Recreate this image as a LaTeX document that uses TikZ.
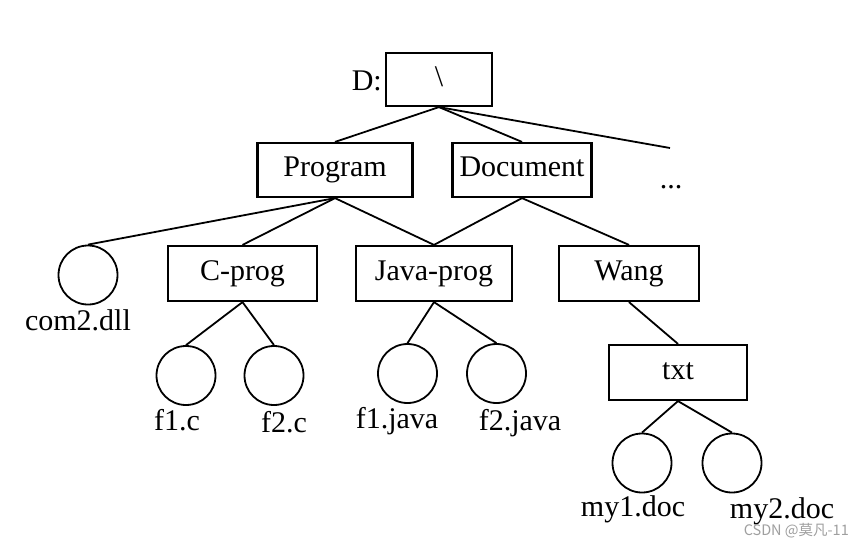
\documentclass[tikz,border=0pt]{standalone}
\usepackage{fontspec}
\setmainfont{Liberation Serif}
\newfontfamily\cjkwm{Noto Sans CJK SC}
\begin{document}
\begin{tikzpicture}[x=1pt,y=-1pt,
  dirbox/.style={draw, line width=2.2pt, inner sep=0pt, text height=20pt, text depth=7pt, font=\fontsize{30}{36}\selectfont},
  filecirc/.style={draw, circle, line width=1.8pt, minimum size=59pt, inner sep=0pt},
  flabel/.style={anchor=base, inner sep=0pt, font=\fontsize{30}{36}\selectfont},
  link/.style={line width=1.8pt}]
\useasboundingbox (0,0) rectangle (865,547);
\fill[white] (0,0) rectangle (865,547);
% directories
\node[dirbox, minimum width=106pt, minimum height=53pt] (root) at (439,79.5) {\textbackslash};
\node[flabel, anchor=base east] (dlabel) at (382,90) {D:};
\node[dirbox, minimum width=155pt, minimum height=54pt] (program) at (335,170) {Program};
\node[dirbox, minimum width=139pt, minimum height=54pt] (document) at (522,170) {Document};
\node[flabel] (dots) at (671,188) {...};
\coordinate (dotsend) at (670,148);
\node[dirbox, minimum width=149pt, minimum height=55pt] (cprog) at (242.5,273.5) {C-prog};
\node[dirbox, minimum width=156pt, minimum height=55pt] (javaprog) at (434,273.5) {Java-prog};
\node[dirbox, minimum width=140pt, minimum height=55pt] (wang) at (629,273.5) {Wang};
\node[dirbox, minimum width=138pt, minimum height=55pt] (txt) at (678,372.5) {txt};
% files
\node[filecirc] (com) at (88,275) {};
\node[flabel] (comlabel) at (78,330) {com2.dll};
\node[filecirc] (f1c) at (186,375.5) {};
\node[flabel] (f1clabel) at (177,430) {f1.c};
\node[filecirc] (f2c) at (274,375.5) {};
\node[flabel] (f2clabel) at (284,432) {f2.c};
\node[filecirc] (f1j) at (407.5,373.5) {};
\node[flabel] (f1jlabel) at (397,428) {f1.java};
\node[filecirc] (f2j) at (496.5,373.5) {};
\node[flabel] (f2jlabel) at (520,430) {f2.java};
\node[filecirc] (my1) at (642,463) {};
\node[flabel] (my1label) at (633,516) {my1.doc};
\node[filecirc] (my2) at (732,463) {};
\node[flabel] (my2label) at (782,518) {my2.doc};
% watermark
\node[anchor=base east, inner sep=0pt, text=gray!75, font=\cjkwm\fontsize{14.5}{16}\selectfont] (wm) at (849,535) {CSDN @莫凡-11};
% connectors
\draw[link] (root.south) -- (program.north);
\draw[link] (root.south) -- (document.north);
\draw[link] (root.south) -- (dotsend);
\draw[link] (program.south) -- (com.north);
\draw[link] (program.south) -- (cprog.north);
\draw[link] (program.south) -- (javaprog.north);
\draw[link] (document.south) -- (javaprog.north);
\draw[link] (document.south) -- (wang.north);
\draw[link] (cprog.south) -- (f1c.north);
\draw[link] (cprog.south) -- (f2c.north);
\draw[link] (javaprog.south) -- (f1j.north);
\draw[link] (javaprog.south) -- (f2j.north);
\draw[link] (wang.south) -- (txt.north);
\draw[link] (txt.south) -- (my1.north);
\draw[link] (txt.south) -- (my2.north);
\end{tikzpicture}
\end{document}
